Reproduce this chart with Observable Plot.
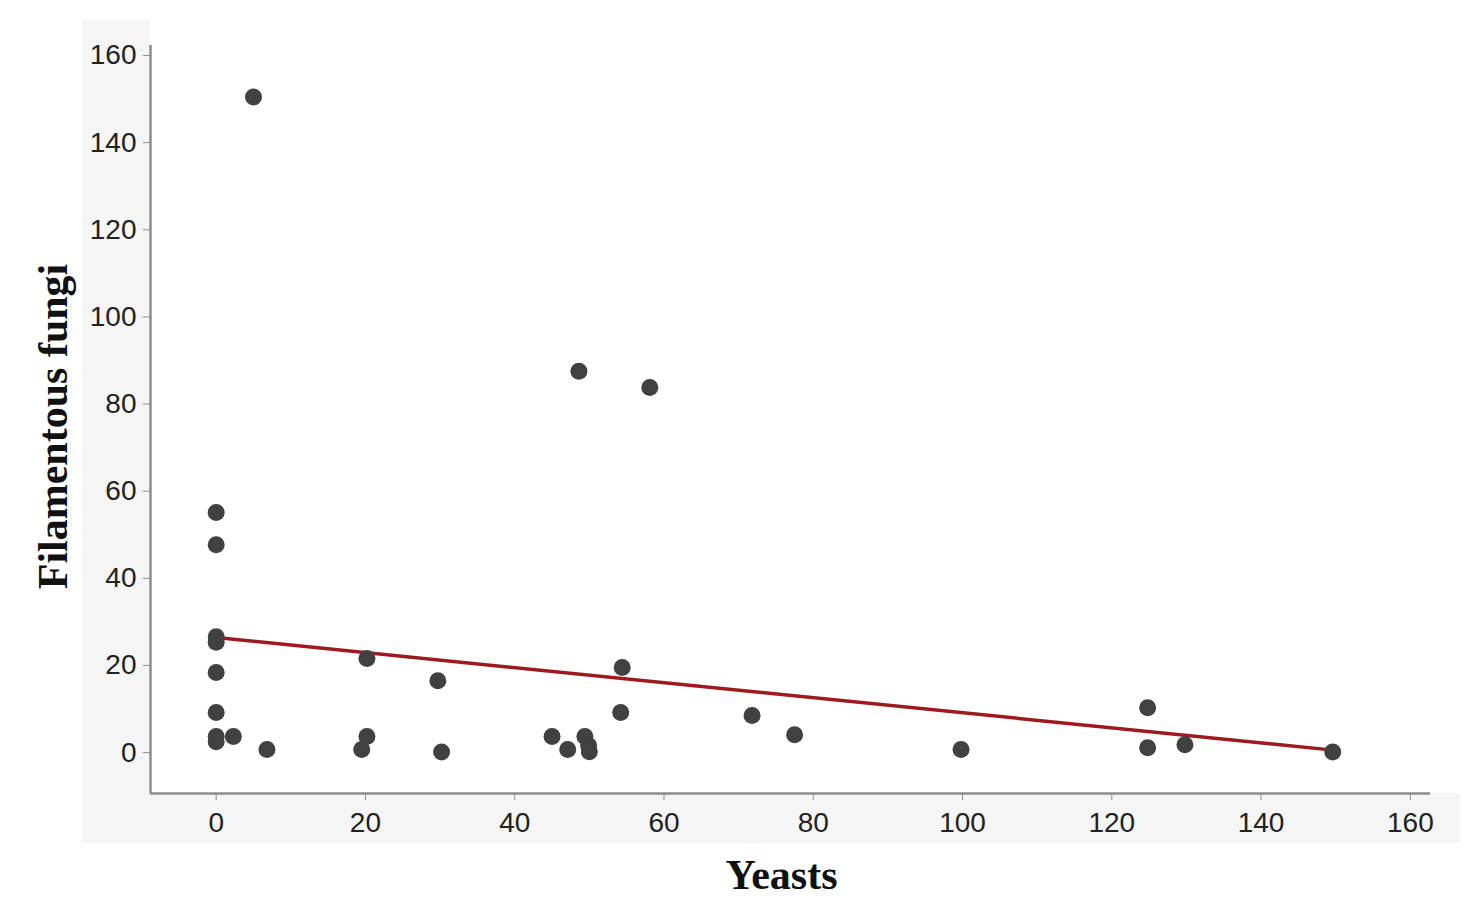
<!DOCTYPE html>
<html>
<head>
<meta charset="utf-8">
<script src="https://cdn.jsdelivr.net/npm/d3@7"></script>
<script src="https://cdn.jsdelivr.net/npm/@observablehq/plot@0.6"></script>
<style>
  html, body { margin: 0; padding: 0; background: #ffffff; }
  #wrap { position: relative; width: 1476px; height: 900px; overflow: hidden; }
  #bg-gray { position: absolute; left: 82px; top: 20px; width: 1378px; height: 823px; background: #f5f5f5; }
  #bg-white { position: absolute; left: 150px; top: 0px; width: 1326px; height: 793px; background: #ffffff; }
  #chart { position: absolute; left: 0; top: 0; }
</style>
</head>
<body>
<div id="wrap">
  <div id="bg-gray"></div>
  <div id="bg-white"></div>
  <div id="chart"></div>
</div>
<script>
// Observations: yeasts (x) vs filamentous fungi (y)
const yeasts = [5, 48.6, 58.1, 0, 0, 0, 0, 0, 0, 0, 0, 2.3, 6.8, 20.2, 20.2, 19.5, 29.7, 30.2, 45, 47.1, 49.4, 49.9, 50, 54.4, 54.2, 71.8, 77.5, 99.8, 124.8, 124.8, 129.8, 149.6];
const fungi  = [150.5, 87.5, 83.8, 55.1, 47.7, 26.6, 25.3, 18.4, 9.2, 3.7, 2.5, 3.7, 0.7, 21.6, 3.7, 0.7, 16.5, 0.1, 3.7, 0.7, 3.7, 1.6, 0.2, 19.5, 9.2, 8.5, 4.1, 0.7, 10.3, 1.1, 1.8, 0.1];

// Fitted linear regression line (endpoints of fitted range)
const fitX = [0, 150];
const fitY = [26.4, 0.5];

// Tick values
const xTicks = [0, 20, 40, 60, 80, 100, 120, 140, 160];
const yTicks = [0, 20, 40, 60, 80, 100, 120, 140, 160];

const xLabel = "Yeasts";
const yLabel = "Filamentous fungi";

const points = yeasts.map((x, i) => ({x, y: fungi[i]}));
const fit = fitX.map((x, i) => ({x, y: fitY[i]}));

const xDomain = [-8.8, 162.7];
const yDomain = [-9.4, 162.3];

const axisColor = "#8c8c8c";
const sans = "'Liberation Sans', Arial, sans-serif";
const serif = "'Liberation Serif', 'Times New Roman', serif";

const plot = Plot.plot({
  width: 1476,
  height: 900,
  marginLeft: 150,
  marginRight: 46,
  marginTop: 45,
  marginBottom: 107,
  style: {background: "transparent", fontFamily: sans},
  x: {domain: xDomain},
  y: {domain: yDomain},
  marks: [
    Plot.ruleX([xDomain[0]], {stroke: axisColor, strokeWidth: 2.5}),
    Plot.ruleY([yDomain[0]], {stroke: axisColor, strokeWidth: 2.5}),
    Plot.axisX({
      ticks: xTicks, tickSize: 7, tickPadding: 12, tickFormat: d3.format("d"),
      stroke: axisColor, fill: "#222", fontSize: 28, label: null
    }),
    Plot.axisY({
      ticks: yTicks, tickSize: 7, tickPadding: 7, tickFormat: d3.format("d"),
      stroke: axisColor, fill: "#222", fontSize: 28, label: null
    }),
    Plot.line(fit, {x: "x", y: "y", stroke: "#9e1a1f", strokeWidth: 3.5}),
    Plot.dot(points, {x: "x", y: "y", r: 8.5, fill: "#414141", stroke: "none"}),
    Plot.text([xLabel], {
      frameAnchor: "bottom", textAnchor: "middle", dx: -9, dy: 95, text: d => d,
      fontSize: 42, fontWeight: "bold", fontFamily: serif, fill: "#111"
    }),
    Plot.text([yLabel], {
      frameAnchor: "left", textAnchor: "middle", dx: -97, dy: 7, rotate: -90, text: d => d,
      fontSize: 42, fontWeight: "bold", fontFamily: serif, fill: "#111"
    })
  ]
});

document.getElementById("chart").appendChild(plot);
</script>
</body>
</html>
